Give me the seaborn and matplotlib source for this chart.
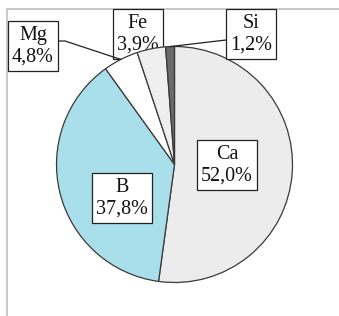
import numpy as np
import matplotlib.pyplot as plt
import seaborn as sns

# Dados do gráfico (percentuais)
elementos = ['Ca', 'B', 'Mg', 'Fe', 'Si']
percentuais = [52.0, 37.8, 4.8, 3.9, 1.2]
cores = ['#ececec', '#a9dfeb', '#ffffff', '#efefef', '#6b6b6b']

sns.set_theme(style='white')
plt.rcParams['font.family'] = ['Liberation Serif', 'DejaVu Serif']

W, H = 339, 316
fig = plt.figure(figsize=(W / 100, H / 100), dpi=100)
ax = fig.add_axes([0, 0, 1, 1])

# Moldura (apenas bordas esquerda e superior visíveis)
ax.plot([7, 7, W], [0, H - 9, H - 9], color='#bfbfbf', lw=1.2, zorder=0)

centro = (174.5, H - 164.5)
raio = 118
wedges, _ = ax.pie(percentuais, colors=cores, startangle=90, counterclock=False,
                   center=centro, radius=raio, frame=True,
                   wedgeprops=dict(edgecolor='#3a3a3a', linewidth=0.9))
ax.set_xlim(0, W)
ax.set_ylim(0, H)
ax.set_aspect('equal')
ax.axis('off')

# Rótulos: posição do centro da caixa (em pixels, y para baixo)
pos_rotulos = {'Ca': (227, 165), 'B': (122, 198), 'Mg': (33, 46),
               'Fe': (138, 34), 'Si': (251, 34)}
caixa = dict(boxstyle='square,pad=0.22', fc='white', ec='#222222', lw=0.9)

for w, nome, val in zip(wedges, elementos, percentuais):
    x, y = pos_rotulos[nome]
    texto = f'{nome}\n{val:.1f}%'.replace('.', ',')
    z = 0.5 if nome == 'Fe' else 3
    ax.text(x, H - y, texto, ha='center', va='center', fontsize=14.5,
            linespacing=1.2, bbox=caixa, zorder=z, color='#111111')

# Linhas de chamada para Mg e Si
for nome, inicio in [('Mg', (58, 41)), ('Si', (226, 40))]:
    w = wedges[elementos.index(nome)]
    ang = np.deg2rad((w.theta1 + w.theta2) / 2)
    ex = centro[0] + raio * np.cos(ang)
    ey = centro[1] + raio * np.sin(ang)
    if nome == 'Mg':
        xs = [inicio[0], inicio[0] + 7, ex]
        ys = [H - inicio[1], H - inicio[1], ey]
    else:
        xs = [inicio[0], ex]
        ys = [H - inicio[1], ey]
    ax.plot(xs, ys, color='#222222', lw=0.9, zorder=2.5)

plt.savefig('out.png', dpi=100)
